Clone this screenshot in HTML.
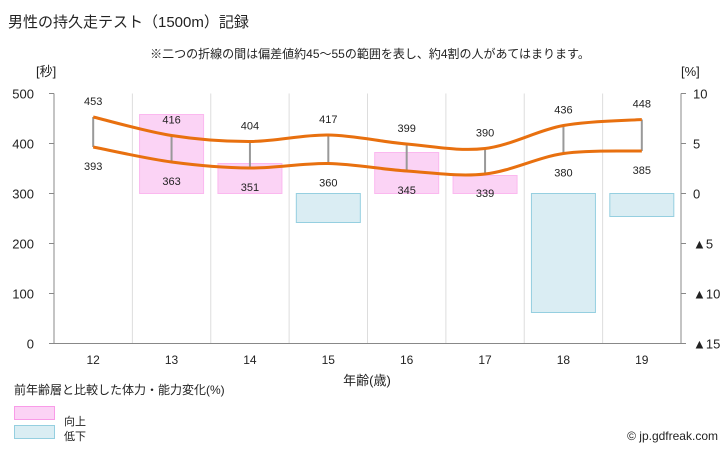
<!DOCTYPE html>
<html><head><meta charset="utf-8"><style>
body{margin:0;background:#fff;}
svg text{font-family:"Liberation Sans","Noto Sans CJK JP",sans-serif;}
</style></head><body>
<svg id="c" width="728" height="450" viewBox="0 0 728 450" xmlns="http://www.w3.org/2000/svg">
<text x="8" y="27" font-size="15" fill="#222">男性の持久走テスト（1500m）記録</text>
<text x="370" y="58" font-size="12" fill="#222" text-anchor="middle">※二つの折線の間は偏差値約45～55の範囲を表し、約4割の人があてはまります。</text>
<text x="36" y="76" font-size="13" fill="#222">[秒]</text>
<text x="681" y="76" font-size="13" fill="#222">[%]</text>
<g id="grid"></g>
<g id="bars"></g>
<g id="lines"></g>
<g id="axes"></g>
<text x="367" y="385" font-size="13" fill="#222" text-anchor="middle">年齢(歳)</text>
<text x="14" y="394" font-size="12" fill="#222">前年齢層と比較した体力・能力変化(%)</text>
<rect x="14.5" y="406.5" width="40" height="13" fill="#fbd3f5" stroke="#f99be8"/>
<text x="64" y="425" font-size="11" fill="#222">向上</text>
<rect x="14.5" y="425.5" width="40" height="13" fill="#daedf3" stroke="#95cfe0"/>
<text x="64" y="440" font-size="11" fill="#222">低下</text>
<text x="718" y="440" font-size="12" fill="#222" text-anchor="end">© jp.gdfreak.com</text>
</svg>
<script>
const categories=["12","13","14","15","16","17","18","19"];
const upper=[453,416,404,417,399,390,436,448];
const lower=[393,363,351,360,345,339,380,385];
const change=[null,7.9,3.0,-2.9,4.1,1.8,-11.9,-2.3];
const leftTicks=[0,100,200,300,400,500];
const rightTicks=[10,5,0,-5,-10,-15];
const rightLabels=["10","5","0","▲5","▲10","▲15"];
const NS="http://www.w3.org/2000/svg";
const L=54,R=681,T=93.5,B=343.5,step=(R-L)/categories.length;
const x=i=>L+step*(i+0.5);
const y=v=>B-(v/500)*(B-T);
const yp=p=>193.5-p*10;
function mk(p,tag,a){const e=document.createElementNS(NS,tag);for(const k in a)e.setAttribute(k,a[k]);p.appendChild(e);return e;}
const grid=document.getElementById('grid'),bars=document.getElementById('bars'),lines=document.getElementById('lines'),axes=document.getElementById('axes');
for(let i=1;i<categories.length;i++){const g=mk(grid,'line',{x1:L+step*i,x2:L+step*i,y1:T,y2:B,stroke:'#ddd'});

}
change.forEach((c,i)=>{if(c===null)return;const up=c>=0;
const r=mk(bars,'rect',{x:x(i)-32,width:64,y:Math.min(yp(c),yp(0)),height:Math.abs(yp(c)-yp(0)),fill:up?'#fbd3f5':'#daedf3',stroke:up?'#fbb8ef':'#95cfe0'});

});
function path(arr){const P=arr.map((v,i)=>[x(i),y(v)]);const n=P.length;let d='M'+P[0][0]+','+P[0][1];
for(let i=0;i<n-1;i++){const p0=P[Math.max(0,i-1)],p1=P[i],p2=P[i+1],p3=P[Math.min(n-1,i+2)];
const c1=[p1[0]+(p2[0]-p0[0])/6,p1[1]+(p2[1]-p0[1])/6],c2=[p2[0]-(p3[0]-p1[0])/6,p2[1]-(p3[1]-p1[1])/6];
d+=' C'+c1+' '+c2+' '+p2;}return d;}
upper.forEach((u,i)=>{const v=mk(lines,'line',{x1:x(i),x2:x(i),y1:y(u),y2:y(lower[i]),stroke:'#999','stroke-width':2});

});
[upper,lower].forEach((arr,k)=>{const p=mk(lines,'path',{d:path(arr),fill:'none',stroke:'#e8700f','stroke-width':3});


arr.forEach((v,i)=>{const t=mk(lines,'text',{x:x(i),y:k?y(v)+23:y(v)-12,'font-size':11,'text-anchor':'middle',fill:'#222'});t.textContent=v;

});});
mk(axes,'line',{x1:L,x2:L,y1:T,y2:B,stroke:'#888'});
mk(axes,'line',{x1:R,x2:R,y1:T,y2:B,stroke:'#888'});
mk(axes,'line',{x1:L,x2:R,y1:B,y2:B,stroke:'#888'});
leftTicks.forEach(v=>{mk(axes,'line',{x1:L-5,x2:L,y1:y(v),y2:y(v),stroke:'#888'});
const t=mk(axes,'text',{x:34,y:y(v)+5,'font-size':13,'text-anchor':'end',fill:'#222'});t.textContent=v;

});
rightTicks.forEach((v,i)=>{mk(axes,'line',{x1:R,x2:R+5,y1:yp(v),y2:yp(v),stroke:'#888'});
const t=mk(axes,'text',{x:R+12,y:yp(v)+5,'font-size':13,fill:'#222'});t.textContent=rightLabels[i];

});
categories.forEach((c,i)=>{const t=mk(axes,'text',{x:x(i),y:364,'font-size':12,'text-anchor':'middle',fill:'#222'});t.textContent=c;

});
</script>
</body></html>
